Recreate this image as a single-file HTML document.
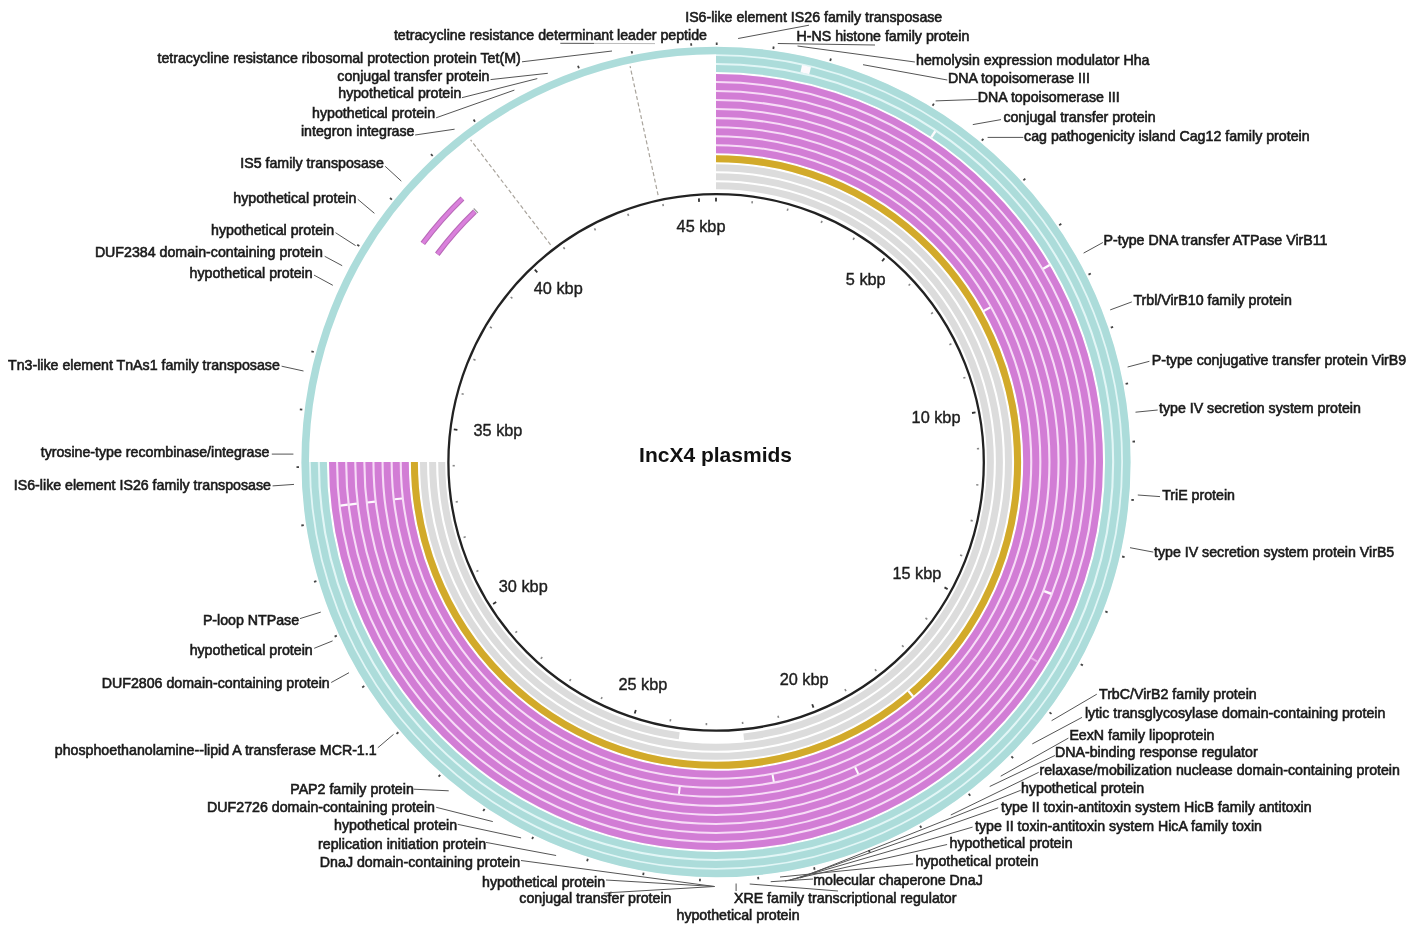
<!DOCTYPE html>
<html><head><meta charset="utf-8"><style>
html,body{margin:0;padding:0;background:#fff;}
svg{display:block;filter:blur(0.3px);}
</style></head><body>
<svg width="1414" height="930" viewBox="0 0 1414 930">
<rect width="1414" height="930" fill="#fff"/>
<path d="M716.00,113.62 A347.10,348.38 0 1 1 368.90,462.00" fill="none" stroke="#f7dcf7" stroke-width="79.44"/>
<path d="M716.00,59.56 A401.70,402.44 0 1 1 314.30,462.00" fill="none" stroke="#e2f6f6" stroke-width="25.11"/>
<path d="M716.00,158.67 A301.60,303.33 0 1 1 414.40,462.00" fill="none" stroke="#fbf1cf" stroke-width="7.00"/>
<ellipse cx="716.0" cy="462.0" rx="410.80" ry="411.45" fill="none" stroke="#acdcda" stroke-width="7.6"/>
<path d="M716.00,59.56 A401.70,402.44 0 1 1 314.30,462.00" fill="none" stroke="#acdcda" stroke-width="7.0"/>
<path d="M716.00,68.57 A392.60,393.43 0 1 1 323.40,462.00" fill="none" stroke="#acdcda" stroke-width="7.0"/>
<path d="M716.00,77.58 A383.50,384.42 0 1 1 332.50,462.00" fill="none" stroke="#d27dd5" stroke-width="7.0"/>
<path d="M716.00,86.59 A374.40,375.41 0 1 1 341.60,462.00" fill="none" stroke="#d27dd5" stroke-width="7.0"/>
<path d="M716.00,95.60 A365.30,366.40 0 1 1 350.70,462.00" fill="none" stroke="#d27dd5" stroke-width="7.0"/>
<path d="M716.00,104.61 A356.20,357.39 0 1 1 359.80,462.00" fill="none" stroke="#d27dd5" stroke-width="7.0"/>
<path d="M716.00,113.62 A347.10,348.38 0 1 1 368.90,462.00" fill="none" stroke="#d27dd5" stroke-width="7.0"/>
<path d="M716.00,122.63 A338.00,339.37 0 1 1 378.00,462.00" fill="none" stroke="#d27dd5" stroke-width="7.0"/>
<path d="M716.00,131.64 A328.90,330.36 0 1 1 387.10,462.00" fill="none" stroke="#d27dd5" stroke-width="7.0"/>
<path d="M716.00,140.65 A319.80,321.35 0 1 1 396.20,462.00" fill="none" stroke="#d27dd5" stroke-width="7.0"/>
<path d="M716.00,149.66 A310.70,312.34 0 1 1 405.30,462.00" fill="none" stroke="#d27dd5" stroke-width="7.0"/>
<path d="M716.00,158.67 A301.60,303.33 0 1 1 414.40,462.00" fill="none" stroke="#d2aa2a" stroke-width="7.0"/>
<path d="M716.00,167.68 A292.50,294.32 0 1 1 423.50,462.00" fill="none" stroke="#dcdcdc" stroke-width="7.0"/>
<path d="M716.00,176.69 A283.40,285.31 0 1 1 432.60,462.00" fill="none" stroke="#dcdcdc" stroke-width="7.0"/>
<path d="M716.00,185.70 A274.30,276.30 0 0 1 743.72,736.89" fill="none" stroke="#dcdcdc" stroke-width="7.0"/>
<path d="M679.25,735.81 A274.30,276.30 0 0 1 441.70,462.00" fill="none" stroke="#dcdcdc" stroke-width="7.0"/>
<path d="M422.79,243.45 A365.70,365.70 0 0 1 462.42,198.49" fill="none" stroke="#b86ab8" stroke-width="5.6"/>
<path d="M422.98,243.19 A365.70,365.70 0 0 1 462.19,198.72" fill="none" stroke="#da80dc" stroke-width="3.4"/>
<path d="M437.25,254.23 A347.66,347.66 0 0 1 474.93,211.49" fill="none" stroke="#b86ab8" stroke-width="5.6"/>
<path d="M437.44,253.99 A347.66,347.66 0 0 1 474.71,211.70" fill="none" stroke="#da80dc" stroke-width="3.4"/>
<line x1="477.9" y1="212.8" x2="473.7" y2="208.5" stroke="#999" stroke-width="1.2"/>
<line x1="550.6" y1="244.8" x2="470.6" y2="139.8" stroke="#a9a49c" stroke-width="1.2" stroke-dasharray="4 2.5"/>
<line x1="658.1" y1="195.2" x2="630.1" y2="66.2" stroke="#a9a49c" stroke-width="1.2" stroke-dasharray="4 2.5"/>
<path d="M801.23,68.72 A401.70,402.44 0 0 1 810.12,70.76" fill="none" stroke="#fdfafd" stroke-width="7.4"/>
<path d="M911.57,692.91 A301.60,303.33 0 0 1 909.76,694.45" fill="none" stroke="#fdfafd" stroke-width="7.4"/>
<path d="M774.14,777.99 A319.80,321.35 0 0 1 772.22,778.35" fill="none" stroke="#fdfafd" stroke-width="7.4"/>
<path d="M857.64,770.13 A338.00,339.37 0 0 1 855.76,771.00" fill="none" stroke="#fdfafd" stroke-width="7.4"/>
<path d="M680.34,790.41 A328.90,330.36 0 0 1 678.34,790.19" fill="none" stroke="#fdfafd" stroke-width="7.4"/>
<path d="M1045.84,265.88 A383.50,384.42 0 0 1 1047.03,267.90" fill="none" stroke="#fdfafd" stroke-width="7.4"/>
<path d="M986.42,308.20 A310.70,312.34 0 0 1 987.48,310.10" fill="none" stroke="#fdfafd" stroke-width="7.4"/>
<path d="M1048.09,591.24 A356.20,357.39 0 0 1 1047.19,593.56" fill="none" stroke="#fdfafd" stroke-width="7.4"/>
<path d="M932.26,133.64 A392.60,393.43 0 0 1 934.26,134.97" fill="none" stroke="#fdfafd" stroke-width="7.4"/>
<path d="M344.21,506.29 A374.40,375.41 0 0 1 343.95,504.01" fill="none" stroke="#fdfafd" stroke-width="7.4"/>
<path d="M353.25,505.22 A365.30,366.40 0 0 1 352.99,503.00" fill="none" stroke="#fdfafd" stroke-width="7.4"/>
<path d="M371.32,503.10 A347.10,348.38 0 0 1 371.08,500.98" fill="none" stroke="#fdfafd" stroke-width="7.4"/>
<path d="M398.43,499.91 A319.80,321.35 0 0 1 398.21,497.96" fill="none" stroke="#fdfafd" stroke-width="7.4"/>
<path d="M1034.72,658.99 A374.40,375.41 0 0 1 1033.68,660.66" fill="none" stroke="#eab0ea" stroke-width="7.4"/>
<ellipse cx="716.1" cy="462.4" rx="267.7" ry="268.3" fill="none" stroke="#222" stroke-width="2.3"/>
<line x1="716.0" y1="201.4" x2="716.0" y2="197.8" stroke="#333" stroke-width="1.8"/>
<line x1="752.0" y1="203.3" x2="752.3" y2="201.1" stroke="#888" stroke-width="1.6"/>
<line x1="787.3" y1="210.7" x2="787.9" y2="208.6" stroke="#888" stroke-width="1.6"/>
<line x1="821.2" y1="222.9" x2="822.1" y2="220.9" stroke="#888" stroke-width="1.6"/>
<line x1="853.1" y1="239.7" x2="854.3" y2="237.8" stroke="#888" stroke-width="1.6"/>
<line x1="882.1" y1="261.2" x2="884.4" y2="258.4" stroke="#333" stroke-width="1.8"/>
<line x1="908.6" y1="285.5" x2="910.2" y2="284.1" stroke="#888" stroke-width="1.6"/>
<line x1="931.1" y1="313.8" x2="932.9" y2="312.5" stroke="#888" stroke-width="1.6"/>
<line x1="949.4" y1="344.8" x2="951.4" y2="343.8" stroke="#888" stroke-width="1.6"/>
<line x1="963.3" y1="378.1" x2="965.4" y2="377.4" stroke="#888" stroke-width="1.6"/>
<line x1="972.0" y1="413.0" x2="975.5" y2="412.4" stroke="#333" stroke-width="1.8"/>
<line x1="976.9" y1="448.7" x2="979.1" y2="448.6" stroke="#888" stroke-width="1.6"/>
<line x1="976.2" y1="484.8" x2="978.4" y2="485.0" stroke="#888" stroke-width="1.6"/>
<line x1="970.6" y1="520.4" x2="972.7" y2="520.9" stroke="#888" stroke-width="1.6"/>
<line x1="960.1" y1="554.9" x2="962.2" y2="555.7" stroke="#888" stroke-width="1.6"/>
<line x1="944.5" y1="587.4" x2="947.6" y2="589.1" stroke="#333" stroke-width="1.8"/>
<line x1="925.5" y1="618.0" x2="927.3" y2="619.3" stroke="#888" stroke-width="1.6"/>
<line x1="902.0" y1="645.4" x2="903.6" y2="646.9" stroke="#888" stroke-width="1.6"/>
<line x1="875.0" y1="669.3" x2="876.3" y2="671.0" stroke="#888" stroke-width="1.6"/>
<line x1="844.9" y1="689.2" x2="846.0" y2="691.1" stroke="#888" stroke-width="1.6"/>
<line x1="812.2" y1="704.2" x2="813.5" y2="707.6" stroke="#333" stroke-width="1.8"/>
<line x1="778.0" y1="715.7" x2="778.5" y2="717.9" stroke="#888" stroke-width="1.6"/>
<line x1="742.5" y1="721.9" x2="742.7" y2="724.0" stroke="#888" stroke-width="1.6"/>
<line x1="706.4" y1="723.0" x2="706.4" y2="725.2" stroke="#888" stroke-width="1.6"/>
<line x1="670.6" y1="719.2" x2="670.2" y2="721.4" stroke="#888" stroke-width="1.6"/>
<line x1="635.8" y1="709.9" x2="634.7" y2="713.4" stroke="#333" stroke-width="1.8"/>
<line x1="602.1" y1="697.1" x2="601.2" y2="699.0" stroke="#888" stroke-width="1.6"/>
<line x1="570.8" y1="679.1" x2="569.6" y2="681.0" stroke="#888" stroke-width="1.6"/>
<line x1="542.3" y1="657.1" x2="540.8" y2="658.7" stroke="#888" stroke-width="1.6"/>
<line x1="517.1" y1="631.3" x2="515.4" y2="632.7" stroke="#888" stroke-width="1.6"/>
<line x1="496.2" y1="601.9" x2="493.1" y2="603.9" stroke="#333" stroke-width="1.8"/>
<line x1="478.4" y1="570.6" x2="476.4" y2="571.5" stroke="#888" stroke-width="1.6"/>
<line x1="465.7" y1="536.8" x2="463.6" y2="537.5" stroke="#888" stroke-width="1.6"/>
<line x1="457.8" y1="501.6" x2="455.7" y2="502.0" stroke="#888" stroke-width="1.6"/>
<line x1="454.8" y1="465.7" x2="452.6" y2="465.7" stroke="#888" stroke-width="1.6"/>
<line x1="457.4" y1="429.8" x2="453.8" y2="429.3" stroke="#333" stroke-width="1.8"/>
<line x1="463.7" y1="394.3" x2="461.6" y2="393.7" stroke="#888" stroke-width="1.6"/>
<line x1="475.5" y1="360.2" x2="473.4" y2="359.3" stroke="#888" stroke-width="1.6"/>
<line x1="491.8" y1="328.0" x2="489.9" y2="326.9" stroke="#888" stroke-width="1.6"/>
<line x1="512.4" y1="298.4" x2="510.7" y2="297.0" stroke="#888" stroke-width="1.6"/>
<line x1="537.3" y1="272.4" x2="534.8" y2="269.7" stroke="#333" stroke-width="1.8"/>
<line x1="564.7" y1="249.1" x2="563.5" y2="247.3" stroke="#888" stroke-width="1.6"/>
<line x1="595.5" y1="230.3" x2="594.5" y2="228.3" stroke="#888" stroke-width="1.6"/>
<line x1="628.6" y1="215.9" x2="627.8" y2="213.8" stroke="#888" stroke-width="1.6"/>
<line x1="663.3" y1="206.2" x2="662.9" y2="204.0" stroke="#888" stroke-width="1.6"/>
<line x1="699.1" y1="201.9" x2="698.9" y2="198.4" stroke="#333" stroke-width="1.8"/>
<text x="676.6" y="232.2" font-family="Liberation Sans, sans-serif" font-size="16.3" fill="#1e1e1e" stroke="#1e1e1e" stroke-width="0.4">45 kbp</text>
<text x="845.8" y="285" font-family="Liberation Sans, sans-serif" font-size="16.3" fill="#1e1e1e" stroke="#1e1e1e" stroke-width="0.4">5 kbp</text>
<text x="911.6" y="422.8" font-family="Liberation Sans, sans-serif" font-size="16.3" fill="#1e1e1e" stroke="#1e1e1e" stroke-width="0.4">10 kbp</text>
<text x="892.4" y="578.7" font-family="Liberation Sans, sans-serif" font-size="16.3" fill="#1e1e1e" stroke="#1e1e1e" stroke-width="0.4">15 kbp</text>
<text x="779.7" y="685" font-family="Liberation Sans, sans-serif" font-size="16.3" fill="#1e1e1e" stroke="#1e1e1e" stroke-width="0.4">20 kbp</text>
<text x="618.4" y="689.5" font-family="Liberation Sans, sans-serif" font-size="16.3" fill="#1e1e1e" stroke="#1e1e1e" stroke-width="0.4">25 kbp</text>
<text x="498.8" y="592.2" font-family="Liberation Sans, sans-serif" font-size="16.3" fill="#1e1e1e" stroke="#1e1e1e" stroke-width="0.4">30 kbp</text>
<text x="473.5" y="436.2" font-family="Liberation Sans, sans-serif" font-size="16.3" fill="#1e1e1e" stroke="#1e1e1e" stroke-width="0.4">35 kbp</text>
<text x="533.8" y="294.4" font-family="Liberation Sans, sans-serif" font-size="16.3" fill="#1e1e1e" stroke="#1e1e1e" stroke-width="0.4">40 kbp</text>
<text x="639.1" y="462.4" font-family="Liberation Sans, sans-serif" font-size="21" font-weight="bold" fill="#111">IncX4 plasmids</text>
<text x="685.2" y="21.6" font-family="Liberation Sans, sans-serif" font-size="14.2" fill="#1a1a1a" stroke="#1a1a1a" stroke-width="0.6">IS6-like element IS26 family transposase</text>
<text x="796.6" y="41.4" font-family="Liberation Sans, sans-serif" font-size="14.2" fill="#1a1a1a" stroke="#1a1a1a" stroke-width="0.6">H-NS histone family protein</text>
<text x="916" y="64.6" font-family="Liberation Sans, sans-serif" font-size="14.2" fill="#1a1a1a" stroke="#1a1a1a" stroke-width="0.6">hemolysin expression modulator Hha</text>
<text x="948" y="83.1" font-family="Liberation Sans, sans-serif" font-size="14.2" fill="#1a1a1a" stroke="#1a1a1a" stroke-width="0.6">DNA topoisomerase III</text>
<text x="977.8" y="102.4" font-family="Liberation Sans, sans-serif" font-size="14.2" fill="#1a1a1a" stroke="#1a1a1a" stroke-width="0.6">DNA topoisomerase III</text>
<text x="1003.4" y="121.7" font-family="Liberation Sans, sans-serif" font-size="14.2" fill="#1a1a1a" stroke="#1a1a1a" stroke-width="0.6">conjugal transfer protein</text>
<text x="1024.1" y="141" font-family="Liberation Sans, sans-serif" font-size="14.2" fill="#1a1a1a" stroke="#1a1a1a" stroke-width="0.6">cag pathogenicity island Cag12 family protein</text>
<text x="1103.5" y="245" font-family="Liberation Sans, sans-serif" font-size="14.2" fill="#1a1a1a" stroke="#1a1a1a" stroke-width="0.6">P-type DNA transfer ATPase VirB11</text>
<text x="1133.4" y="305.1" font-family="Liberation Sans, sans-serif" font-size="14.2" fill="#1a1a1a" stroke="#1a1a1a" stroke-width="0.6">Trbl/VirB10 family protein</text>
<text x="1151.7" y="365.1" font-family="Liberation Sans, sans-serif" font-size="14.2" fill="#1a1a1a" stroke="#1a1a1a" stroke-width="0.6">P-type conjugative transfer protein VirB9</text>
<text x="1159" y="413" font-family="Liberation Sans, sans-serif" font-size="14.2" fill="#1a1a1a" stroke="#1a1a1a" stroke-width="0.6">type IV secretion system protein</text>
<text x="1162.2" y="499.9" font-family="Liberation Sans, sans-serif" font-size="14.2" fill="#1a1a1a" stroke="#1a1a1a" stroke-width="0.6">TriE protein</text>
<text x="1154" y="556.5" font-family="Liberation Sans, sans-serif" font-size="14.2" fill="#1a1a1a" stroke="#1a1a1a" stroke-width="0.6">type IV secretion system protein VirB5</text>
<text x="1099" y="698.7" font-family="Liberation Sans, sans-serif" font-size="14.2" fill="#1a1a1a" stroke="#1a1a1a" stroke-width="0.6">TrbC/VirB2 family protein</text>
<text x="1084.9" y="718.3" font-family="Liberation Sans, sans-serif" font-size="14.2" fill="#1a1a1a" stroke="#1a1a1a" stroke-width="0.6">lytic transglycosylase domain-containing protein</text>
<text x="1069.4" y="740.3" font-family="Liberation Sans, sans-serif" font-size="14.2" fill="#1a1a1a" stroke="#1a1a1a" stroke-width="0.6">EexN family lipoprotein</text>
<text x="1055" y="757.3" font-family="Liberation Sans, sans-serif" font-size="14.2" fill="#1a1a1a" stroke="#1a1a1a" stroke-width="0.6">DNA-binding response regulator</text>
<text x="1039.5" y="774.8" font-family="Liberation Sans, sans-serif" font-size="14.2" fill="#1a1a1a" stroke="#1a1a1a" stroke-width="0.6">relaxase/mobilization nuclease domain-containing protein</text>
<text x="1021.1" y="792.8" font-family="Liberation Sans, sans-serif" font-size="14.2" fill="#1a1a1a" stroke="#1a1a1a" stroke-width="0.6">hypothetical protein</text>
<text x="1001" y="811.6" font-family="Liberation Sans, sans-serif" font-size="14.2" fill="#1a1a1a" stroke="#1a1a1a" stroke-width="0.6">type II toxin-antitoxin system HicB family antitoxin</text>
<text x="975" y="830.8" font-family="Liberation Sans, sans-serif" font-size="14.2" fill="#1a1a1a" stroke="#1a1a1a" stroke-width="0.6">type II toxin-antitoxin system HicA family toxin</text>
<text x="949.5" y="847.8" font-family="Liberation Sans, sans-serif" font-size="14.2" fill="#1a1a1a" stroke="#1a1a1a" stroke-width="0.6">hypothetical protein</text>
<text x="915.6" y="866.2" font-family="Liberation Sans, sans-serif" font-size="14.2" fill="#1a1a1a" stroke="#1a1a1a" stroke-width="0.6">hypothetical protein</text>
<text x="813.2" y="884.6" font-family="Liberation Sans, sans-serif" font-size="14.2" fill="#1a1a1a" stroke="#1a1a1a" stroke-width="0.6">molecular chaperone DnaJ</text>
<text x="734" y="903" font-family="Liberation Sans, sans-serif" font-size="14.2" fill="#1a1a1a" stroke="#1a1a1a" stroke-width="0.6">XRE family transcriptional regulator</text>
<text x="676.5" y="919.5" font-family="Liberation Sans, sans-serif" font-size="14.2" fill="#1a1a1a" stroke="#1a1a1a" stroke-width="0.6">hypothetical protein</text>
<text x="393.9" y="39.7" font-family="Liberation Sans, sans-serif" font-size="14.2" fill="#1a1a1a" stroke="#1a1a1a" stroke-width="0.6">tetracycline resistance determinant leader peptide</text>
<text x="671.5" y="903.4" font-family="Liberation Sans, sans-serif" font-size="14.2" fill="#1a1a1a" stroke="#1a1a1a" stroke-width="0.6" text-anchor="end">conjugal transfer protein</text>
<text x="605.1" y="887.1" font-family="Liberation Sans, sans-serif" font-size="14.2" fill="#1a1a1a" stroke="#1a1a1a" stroke-width="0.6" text-anchor="end">hypothetical protein</text>
<text x="520.2" y="866.9" font-family="Liberation Sans, sans-serif" font-size="14.2" fill="#1a1a1a" stroke="#1a1a1a" stroke-width="0.6" text-anchor="end">DnaJ domain-containing protein</text>
<text x="486.1" y="848.7" font-family="Liberation Sans, sans-serif" font-size="14.2" fill="#1a1a1a" stroke="#1a1a1a" stroke-width="0.6" text-anchor="end">replication initiation protein</text>
<text x="457.1" y="830.2" font-family="Liberation Sans, sans-serif" font-size="14.2" fill="#1a1a1a" stroke="#1a1a1a" stroke-width="0.6" text-anchor="end">hypothetical protein</text>
<text x="435" y="812.3" font-family="Liberation Sans, sans-serif" font-size="14.2" fill="#1a1a1a" stroke="#1a1a1a" stroke-width="0.6" text-anchor="end">DUF2726 domain-containing protein</text>
<text x="413.8" y="794.4" font-family="Liberation Sans, sans-serif" font-size="14.2" fill="#1a1a1a" stroke="#1a1a1a" stroke-width="0.6" text-anchor="end">PAP2 family protein</text>
<text x="376.6" y="754.6" font-family="Liberation Sans, sans-serif" font-size="14.2" fill="#1a1a1a" stroke="#1a1a1a" stroke-width="0.6" text-anchor="end">phosphoethanolamine--lipid A transferase MCR-1.1</text>
<text x="329.7" y="688.4" font-family="Liberation Sans, sans-serif" font-size="14.2" fill="#1a1a1a" stroke="#1a1a1a" stroke-width="0.6" text-anchor="end">DUF2806 domain-containing protein</text>
<text x="312.7" y="654.8" font-family="Liberation Sans, sans-serif" font-size="14.2" fill="#1a1a1a" stroke="#1a1a1a" stroke-width="0.6" text-anchor="end">hypothetical protein</text>
<text x="299.1" y="624.5" font-family="Liberation Sans, sans-serif" font-size="14.2" fill="#1a1a1a" stroke="#1a1a1a" stroke-width="0.6" text-anchor="end">P-loop NTPase</text>
<text x="270.9" y="489.5" font-family="Liberation Sans, sans-serif" font-size="14.2" fill="#1a1a1a" stroke="#1a1a1a" stroke-width="0.6" text-anchor="end">IS6-like element IS26 family transposase</text>
<text x="269.4" y="457.1" font-family="Liberation Sans, sans-serif" font-size="14.2" fill="#1a1a1a" stroke="#1a1a1a" stroke-width="0.6" text-anchor="end">tyrosine-type recombinase/integrase</text>
<text x="279.8" y="369.5" font-family="Liberation Sans, sans-serif" font-size="14.2" fill="#1a1a1a" stroke="#1a1a1a" stroke-width="0.6" text-anchor="end">Tn3-like element TnAs1 family transposase</text>
<text x="312.6" y="277.8" font-family="Liberation Sans, sans-serif" font-size="14.2" fill="#1a1a1a" stroke="#1a1a1a" stroke-width="0.6" text-anchor="end">hypothetical protein</text>
<text x="322.8" y="256.8" font-family="Liberation Sans, sans-serif" font-size="14.2" fill="#1a1a1a" stroke="#1a1a1a" stroke-width="0.6" text-anchor="end">DUF2384 domain-containing protein</text>
<text x="334.1" y="235.3" font-family="Liberation Sans, sans-serif" font-size="14.2" fill="#1a1a1a" stroke="#1a1a1a" stroke-width="0.6" text-anchor="end">hypothetical protein</text>
<text x="356.4" y="202.6" font-family="Liberation Sans, sans-serif" font-size="14.2" fill="#1a1a1a" stroke="#1a1a1a" stroke-width="0.6" text-anchor="end">hypothetical protein</text>
<text x="383.8" y="168.4" font-family="Liberation Sans, sans-serif" font-size="14.2" fill="#1a1a1a" stroke="#1a1a1a" stroke-width="0.6" text-anchor="end">IS5 family transposase</text>
<text x="414.5" y="136.3" font-family="Liberation Sans, sans-serif" font-size="14.2" fill="#1a1a1a" stroke="#1a1a1a" stroke-width="0.6" text-anchor="end">integron integrase</text>
<text x="435.1" y="118.4" font-family="Liberation Sans, sans-serif" font-size="14.2" fill="#1a1a1a" stroke="#1a1a1a" stroke-width="0.6" text-anchor="end">hypothetical protein</text>
<text x="461.3" y="98.1" font-family="Liberation Sans, sans-serif" font-size="14.2" fill="#1a1a1a" stroke="#1a1a1a" stroke-width="0.6" text-anchor="end">hypothetical protein</text>
<text x="489.5" y="80.6" font-family="Liberation Sans, sans-serif" font-size="14.2" fill="#1a1a1a" stroke="#1a1a1a" stroke-width="0.6" text-anchor="end">conjugal transfer protein</text>
<text x="520.7" y="63.2" font-family="Liberation Sans, sans-serif" font-size="14.2" fill="#1a1a1a" stroke="#1a1a1a" stroke-width="0.6" text-anchor="end">tetracycline resistance ribosomal protection protein Tet(M)</text>
<line x1="809" y1="25.2" x2="738.1" y2="38.5" stroke="#555" stroke-width="1"/>
<line x1="777.8" y1="43.5" x2="875" y2="45" stroke="#555" stroke-width="1"/>
<line x1="797.5" y1="46" x2="914.9" y2="62" stroke="#555" stroke-width="1"/>
<line x1="863" y1="64.7" x2="947.3" y2="80" stroke="#555" stroke-width="1"/>
<line x1="935.6" y1="100.9" x2="977.8" y2="99.4" stroke="#555" stroke-width="1"/>
<line x1="972.8" y1="124.6" x2="1001" y2="119.6" stroke="#555" stroke-width="1"/>
<line x1="987.6" y1="137.4" x2="1023.3" y2="137.4" stroke="#555" stroke-width="1"/>
<line x1="1083.6" y1="253.1" x2="1102.9" y2="242.5" stroke="#555" stroke-width="1"/>
<line x1="1110.2" y1="309.9" x2="1131.8" y2="301.9" stroke="#555" stroke-width="1"/>
<line x1="1127.6" y1="367" x2="1149.4" y2="361.3" stroke="#555" stroke-width="1"/>
<line x1="1135.5" y1="412.2" x2="1157.7" y2="410" stroke="#555" stroke-width="1"/>
<line x1="1137.8" y1="495" x2="1160" y2="496.6" stroke="#555" stroke-width="1"/>
<line x1="1130" y1="547.7" x2="1153.3" y2="552.1" stroke="#555" stroke-width="1"/>
<line x1="1096.8" y1="694.2" x2="1051.6" y2="720.7" stroke="#555" stroke-width="1"/>
<line x1="1082" y1="717.4" x2="1032.3" y2="743.9" stroke="#555" stroke-width="1"/>
<line x1="1068.4" y1="738.1" x2="1000.7" y2="776.2" stroke="#555" stroke-width="1"/>
<line x1="1054.9" y1="755.5" x2="989.7" y2="786.5" stroke="#555" stroke-width="1"/>
<line x1="1038.7" y1="772.3" x2="950.8" y2="815" stroke="#555" stroke-width="1"/>
<line x1="1020.7" y1="790.3" x2="800" y2="878" stroke="#555" stroke-width="1"/>
<line x1="998.2" y1="807.8" x2="795" y2="879" stroke="#555" stroke-width="1"/>
<line x1="972.6" y1="827.1" x2="790" y2="880" stroke="#555" stroke-width="1"/>
<line x1="947.1" y1="844.5" x2="785" y2="881" stroke="#555" stroke-width="1"/>
<line x1="913.2" y1="863.9" x2="780" y2="877" stroke="#555" stroke-width="1"/>
<line x1="813" y1="879" x2="770.7" y2="881.7" stroke="#555" stroke-width="1"/>
<line x1="838" y1="891" x2="749.7" y2="884" stroke="#555" stroke-width="1"/>
<line x1="736.1" y1="883.5" x2="736.1" y2="891" stroke="#555" stroke-width="1"/>
<line x1="560.3" y1="43.3" x2="594" y2="43.4" stroke="#555" stroke-width="1"/>
<line x1="522" y1="61.8" x2="612" y2="51" stroke="#555" stroke-width="1"/>
<line x1="490.5" y1="79.6" x2="547.8" y2="73.3" stroke="#555" stroke-width="1"/>
<line x1="461.9" y1="97.7" x2="537.3" y2="78.6" stroke="#555" stroke-width="1"/>
<line x1="436.1" y1="117.8" x2="514.4" y2="90.1" stroke="#555" stroke-width="1"/>
<line x1="415.1" y1="135" x2="454.6" y2="129.2" stroke="#555" stroke-width="1"/>
<line x1="385.2" y1="166.3" x2="401.3" y2="181.1" stroke="#555" stroke-width="1"/>
<line x1="357.8" y1="199.3" x2="374.4" y2="213.3" stroke="#555" stroke-width="1"/>
<line x1="335.5" y1="232.7" x2="355.6" y2="245.6" stroke="#555" stroke-width="1"/>
<line x1="324.7" y1="256.3" x2="342.2" y2="265.7" stroke="#555" stroke-width="1"/>
<line x1="314" y1="275.1" x2="332.8" y2="285.3" stroke="#555" stroke-width="1"/>
<line x1="281.6" y1="366.2" x2="303.5" y2="371" stroke="#555" stroke-width="1"/>
<line x1="271.8" y1="454.1" x2="293.4" y2="454.1" stroke="#555" stroke-width="1"/>
<line x1="272.6" y1="485.9" x2="294" y2="484.4" stroke="#555" stroke-width="1"/>
<line x1="300" y1="618.6" x2="320.8" y2="612.1" stroke="#555" stroke-width="1"/>
<line x1="314.2" y1="648.3" x2="332.6" y2="640.9" stroke="#555" stroke-width="1"/>
<line x1="331.2" y1="682.5" x2="349" y2="672.7" stroke="#555" stroke-width="1"/>
<line x1="377.8" y1="747.8" x2="393.5" y2="734.4" stroke="#555" stroke-width="1"/>
<line x1="413.6" y1="789.2" x2="448.7" y2="790.8" stroke="#555" stroke-width="1"/>
<line x1="436.2" y1="807.3" x2="492.8" y2="821.6" stroke="#555" stroke-width="1"/>
<line x1="457.7" y1="824.3" x2="521.1" y2="837.9" stroke="#555" stroke-width="1"/>
<line x1="486" y1="842.4" x2="556.1" y2="855.5" stroke="#555" stroke-width="1"/>
<line x1="521" y1="860.5" x2="714.5" y2="886.5" stroke="#555" stroke-width="1"/>
<line x1="606" y1="880" x2="714.5" y2="886.5" stroke="#555" stroke-width="1"/>
<line x1="604" y1="893" x2="714.5" y2="886.5" stroke="#555" stroke-width="1"/>
<line x1="594" y1="43.4" x2="655" y2="43.6" stroke="#bbb" stroke-width="1"/>
<line x1="716.7" y1="45.0" x2="716.7" y2="42.5" stroke="#444" stroke-width="1.8"/>
<line x1="773.3" y1="49.0" x2="773.7" y2="46.5" stroke="#444" stroke-width="1.8"/>
<line x1="830.2" y1="61.0" x2="830.9" y2="58.5" stroke="#444" stroke-width="1.8"/>
<line x1="932.6" y1="105.7" x2="933.9" y2="103.6" stroke="#444" stroke-width="1.8"/>
<line x1="981.8" y1="140.7" x2="983.4" y2="138.8" stroke="#444" stroke-width="1.8"/>
<line x1="1023.4" y1="180.3" x2="1025.3" y2="178.6" stroke="#444" stroke-width="1.8"/>
<line x1="1059.2" y1="225.2" x2="1061.3" y2="223.8" stroke="#444" stroke-width="1.8"/>
<line x1="1088.5" y1="274.6" x2="1090.8" y2="273.5" stroke="#444" stroke-width="1.8"/>
<line x1="1110.8" y1="327.6" x2="1113.1" y2="326.8" stroke="#444" stroke-width="1.8"/>
<line x1="1125.6" y1="383.9" x2="1128.1" y2="383.4" stroke="#444" stroke-width="1.8"/>
<line x1="1132.5" y1="441.6" x2="1135.0" y2="441.5" stroke="#444" stroke-width="1.8"/>
<line x1="1131.3" y1="499.8" x2="1133.8" y2="500.0" stroke="#444" stroke-width="1.8"/>
<line x1="1122.1" y1="556.5" x2="1124.6" y2="557.1" stroke="#444" stroke-width="1.8"/>
<line x1="1105.3" y1="611.4" x2="1107.6" y2="612.3" stroke="#444" stroke-width="1.8"/>
<line x1="1080.7" y1="664.2" x2="1082.9" y2="665.4" stroke="#444" stroke-width="1.8"/>
<line x1="1049.5" y1="712.4" x2="1051.5" y2="713.9" stroke="#444" stroke-width="1.8"/>
<line x1="1011.4" y1="756.3" x2="1013.1" y2="758.1" stroke="#444" stroke-width="1.8"/>
<line x1="968.7" y1="793.7" x2="970.2" y2="795.7" stroke="#444" stroke-width="1.8"/>
<line x1="920.1" y1="825.7" x2="921.3" y2="827.8" stroke="#444" stroke-width="1.8"/>
<line x1="868.8" y1="850.0" x2="869.7" y2="852.3" stroke="#444" stroke-width="1.8"/>
<line x1="814.1" y1="867.3" x2="814.6" y2="869.7" stroke="#444" stroke-width="1.8"/>
<line x1="758.1" y1="876.9" x2="758.4" y2="879.4" stroke="#444" stroke-width="1.8"/>
<line x1="700.0" y1="878.7" x2="699.9" y2="881.2" stroke="#444" stroke-width="1.8"/>
<line x1="643.6" y1="872.7" x2="643.2" y2="875.1" stroke="#444" stroke-width="1.8"/>
<line x1="587.8" y1="858.8" x2="587.1" y2="861.2" stroke="#444" stroke-width="1.8"/>
<line x1="533.2" y1="836.8" x2="532.1" y2="839.0" stroke="#444" stroke-width="1.8"/>
<line x1="484.6" y1="808.9" x2="483.2" y2="811.0" stroke="#444" stroke-width="1.8"/>
<line x1="440.2" y1="774.8" x2="438.6" y2="776.7" stroke="#444" stroke-width="1.8"/>
<line x1="398.4" y1="732.3" x2="396.5" y2="733.9" stroke="#444" stroke-width="1.8"/>
<line x1="364.3" y1="686.1" x2="362.2" y2="687.4" stroke="#444" stroke-width="1.8"/>
<line x1="336.8" y1="635.6" x2="334.6" y2="636.6" stroke="#444" stroke-width="1.8"/>
<line x1="316.4" y1="581.1" x2="314.0" y2="581.8" stroke="#444" stroke-width="1.8"/>
<line x1="303.8" y1="525.1" x2="301.3" y2="525.5" stroke="#444" stroke-width="1.8"/>
<line x1="299.0" y1="467.1" x2="296.5" y2="467.1" stroke="#444" stroke-width="1.8"/>
<line x1="302.3" y1="409.7" x2="299.8" y2="409.4" stroke="#444" stroke-width="1.8"/>
<line x1="313.8" y1="352.0" x2="311.4" y2="351.3" stroke="#444" stroke-width="1.8"/>
<line x1="359.3" y1="246.0" x2="357.2" y2="244.7" stroke="#444" stroke-width="1.8"/>
<line x1="391.9" y1="199.6" x2="390.0" y2="198.0" stroke="#444" stroke-width="1.8"/>
<line x1="432.7" y1="156.0" x2="431.0" y2="154.2" stroke="#444" stroke-width="1.8"/>
<line x1="475.0" y1="121.7" x2="473.6" y2="119.6" stroke="#444" stroke-width="1.8"/>
<line x1="578.9" y1="68.2" x2="578.0" y2="65.8" stroke="#444" stroke-width="1.8"/>
<line x1="632.2" y1="53.5" x2="631.6" y2="51.1" stroke="#444" stroke-width="1.8"/>
<line x1="691.3" y1="45.7" x2="691.1" y2="43.2" stroke="#444" stroke-width="1.8"/>
</svg>
</body></html>
